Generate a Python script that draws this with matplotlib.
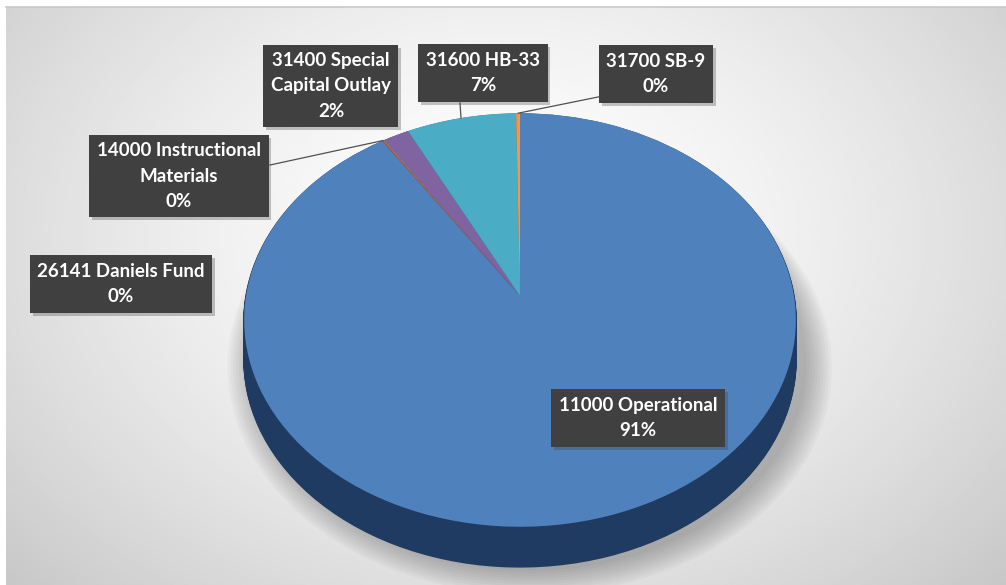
import numpy as np
import matplotlib.pyplot as plt
from matplotlib.transforms import Transform
from matplotlib.patches import Circle, Rectangle

# fund shares in percent
funds = ['11000 Operational', '14000 Instructional Materials', '26141 Daniels Fund',
         '31400 Special Capital Outlay', '31600 HB-33', '31700 SB-9']
shares = [90.7, 0.1, 0.05, 1.7, 7.2, 0.25]
label_text = ['11000 Operational', '14000 Instructional\nMaterials', '26141 Daniels Fund',
              '31400 Special\nCapital Outlay', '31600 HB-33', '31700 SB-9']

top_colors = ['#4f81bd', '#c0504d', '#9bbb59', '#8064a2', '#4bacc6', '#f79646']
side_colors = ['#1f3b62', '#6e2422', '#55692c', '#47365e', '#24697b', '#a35a1c']

# label box centres (pixels) and where the leader line leaves the box
label_pos = {0: (638, 418), 1: (179, 176), 2: (121, 284), 3: (331, 86), 4: (483, 73), 5: (656, 74)}
leader_from = {1: (270, 165), 4: (460, 103), 5: (603, 96)}

# tilted pie geometry, in pixels
CX, CY, RX, RY, K, DEPTH = 520, 296, 274, 204, 0.116, 40


class Tilt(Transform):
    """unit-circle pie space -> tilted, slightly perspective ellipse in pixels"""
    input_dims = output_dims = 2

    def __init__(self, drop=0.0):
        super().__init__()
        self.drop = drop

    def transform_non_affine(self, values):
        xy = np.asarray(values, dtype=float).reshape(-1, 2)
        w = 1 + K * xy[:, 1]
        return np.column_stack([CX + RX * xy[:, 0] / w, CY - RY * xy[:, 1] / w + self.drop])


fig = plt.figure(figsize=(10.06, 5.85), dpi=100)
fig.patch.set_facecolor('white')
ax = fig.add_axes([0, 0, 1, 1])

# radial grey background like the Excel chart area
gx, gy = np.meshgrid(np.linspace(0, 1006, 400), np.linspace(0, 585, 240))
r = np.sqrt(((gx - 500) / 560) ** 2 + ((gy - 230) / 420) ** 2)
shade = np.clip(1 - 0.16 * r ** 1.5, 0.75, 1)
ax.imshow(shade, cmap='gray', vmin=0, vmax=1, extent=[6, 1006, 585, 7], zorder=0, aspect='auto')
ax.plot([6, 1006], [7, 7], color='#c8c8c8', lw=1.2, zorder=1)

# soft shadow under the pie
for rad in np.linspace(1.09, 1.0, 10):
    c = Circle((0.035, -0.03), rad, color='0.3', alpha=0.045, lw=0, zorder=1)
    c.set_transform(Tilt(DEPTH - 4) + ax.transData)
    ax.add_patch(c)

# side of the pie: stacked layers
for d in np.arange(DEPTH, 0, -1):
    ws, _ = ax.pie(shares, colors=side_colors, startangle=90, counterclock=False,
                   wedgeprops=dict(linewidth=1.2))
    for w, col in zip(ws, side_colors):
        w.set_edgecolor(col)
        w.set_zorder(2)
        w.set_transform(Tilt(d) + ax.transData)

# top surface
wedges, _ = ax.pie(shares, colors=top_colors, startangle=90, counterclock=False,
                   wedgeprops=dict(linewidth=0))
for w in wedges:
    w.set_zorder(3)
    w.set_transform(Tilt() + ax.transData)

# leader lines from the rim to the label boxes
for i, (bx, by) in leader_from.items():
    mid = np.deg2rad((wedges[i].theta1 + wedges[i].theta2) / 2)
    px, py = Tilt().transform(np.array([[np.cos(mid), np.sin(mid)]]))[0]
    ax.plot([px, bx], [py, by], color='#505050', lw=0.9, zorder=4)

# data labels
labels = []
for i, txt in enumerate(label_text):
    s = f'{txt}\n{round(shares[i] / sum(shares) * 100):.0f}%'
    x, y = label_pos[i]
    t = ax.text(x, y, s, ha='center', va='center', fontsize=13.5, fontweight='bold',
                family=['Lato', 'DejaVu Sans'], color='white', linespacing=1.6, zorder=6,
                bbox=dict(boxstyle='square,pad=0.4', fc='#404040', ec='none'))
    labels.append(t)

ax.set_aspect('auto')
ax.set_xlim(0, 1006)
ax.set_ylim(585, 0)
ax.axis('off')

# drop shadows behind the label boxes
fig.canvas.draw()
inv = ax.transData.inverted()
for t in labels:
    ext = t.get_bbox_patch().get_window_extent()
    (x0, y0), (x1, y1) = inv.transform([[ext.x0, ext.y0], [ext.x1, ext.y1]])
    ax.add_patch(Rectangle((min(x0, x1) + 3, min(y0, y1) + 3), abs(x1 - x0), abs(y1 - y0),
                           fc='0.25', ec='none', alpha=0.3, zorder=5))

plt.savefig('out.png', dpi=100)
